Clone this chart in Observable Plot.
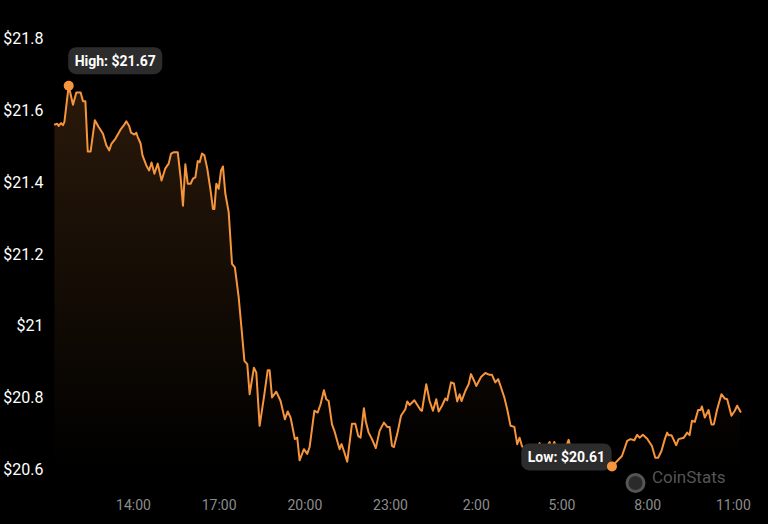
<!DOCTYPE html>
<html><head><meta charset="utf-8">
<script src="https://cdn.jsdelivr.net/npm/d3@7"></script>
<script src="https://cdn.jsdelivr.net/npm/@observablehq/plot@0.6"></script>
<style>
html,body{margin:0;padding:0;background:#000;}
#chart svg{display:block;}
</style></head><body><div id="chart"></div>
<script>
// ---- data ----
const startTime = new Date(2024, 4, 14, 11, 15);
const minutes = [
  0,5,8,13,17,20,29,38,45,54,
  59,64,69,75,84,92,101,108,114,119,
  127,139,145,150,156,160,167,171,174,180,
  184,192,198,203,209,216,224,232,239,244,
  250,258,264,269,274,279,285,290,295,300,
  304,309,314,320,327,332,335,339,344,349,
  353,358,365,372,378,386,393,398,404,409,
  418,423,430,439,447,451,456,465,474,483,
  489,495,504,509,514,523,530,535,545,552,
  558,565,570,575,582,587,594,598,602,607,
  614,624,631,637,642,649,653,659,666,674,
  682,691,698,703,708,712,719,727,736,740,
  745,755,768,771,780,787,794,801,806,813,
  820,824,832,838,845,850,854,862,869,874,
  880,885,895,904,913,918,925,931,936,944,
  950,957,965,971,976,981,988,999,1009,1018,
  1024,1032,1039,1043,1049,1055,1064,1072,1079,1085,
  1095,1106,1116,1127,1137,1148,1158,1170,1181,1191,
  1202,1209,1217,1223,1228,1235,1244,1254,1261,1267,
  1274,1281,1286,1289,1295,1305,1310,1321,1328,1333,
  1338,1344,1351,1356,1359,1365,1373,1379,1384,1391,
  1400,1407,1412,1421,1428,1433,1440
];
const prices = [
  21.562,21.564,21.558,21.566,21.560,21.569,21.670,21.617,21.651,21.651,
  21.627,21.627,21.487,21.487,21.574,21.555,21.536,21.504,21.490,21.509,
  21.522,21.550,21.560,21.571,21.558,21.539,21.534,21.539,21.527,21.509,
  21.476,21.448,21.434,21.456,21.425,21.453,21.406,21.440,21.453,21.481,
  21.485,21.485,21.415,21.336,21.451,21.397,21.397,21.411,21.415,21.460,
  21.457,21.481,21.476,21.439,21.378,21.327,21.327,21.397,21.383,21.434,
  21.445,21.369,21.318,21.174,21.164,21.081,20.979,20.904,20.895,20.811,
  20.885,20.871,20.723,20.802,20.878,20.878,20.802,20.818,20.792,20.741,
  20.763,20.746,20.686,20.690,20.627,20.658,20.645,20.664,20.765,20.760,
  20.783,20.822,20.797,20.792,20.727,20.709,20.676,20.658,20.672,20.653,
  20.623,20.729,20.729,20.695,20.690,20.772,20.735,20.704,20.686,20.661,
  20.709,20.732,20.720,20.720,20.667,20.664,20.700,20.751,20.769,20.791,
  20.781,20.794,20.767,20.765,20.839,20.792,20.765,20.797,20.763,20.779,
  20.799,20.794,20.844,20.841,20.791,20.811,20.792,20.820,20.839,20.867,
  20.850,20.834,20.859,20.870,20.865,20.865,20.844,20.853,20.834,20.802,
  20.769,20.723,20.720,20.672,20.690,20.667,20.653,20.664,20.647,20.675,
  20.656,20.661,20.678,20.659,20.678,20.653,20.645,20.659,20.684,20.650,
  20.639,20.653,20.636,20.647,20.631,20.639,20.620,20.610,20.625,20.639,
  20.681,20.686,20.683,20.698,20.690,20.698,20.687,20.667,20.634,20.634,
  20.653,20.686,20.704,20.697,20.697,20.669,20.686,20.690,20.704,20.697,
  20.737,20.734,20.767,20.767,20.777,20.746,20.767,20.727,20.727,20.769,
  20.811,20.799,20.797,20.751,20.765,20.779,20.762
];
const yTicks = [20.6, 20.8, 21, 21.2, 21.4, 21.6, 21.8];
const xTickLabels = ["14:00","17:00","20:00","23:00","2:00","5:00","8:00","11:00"];
const watermark = "CoinStats";

// ---- build ----
const data = minutes.map((m, i) => ({date: new Date(startTime.getTime() + m * 60000), price: prices[i]}));
const xTicks = xTickLabels.map(s => {
  const [h, mm] = s.split(":").map(Number);
  const d = new Date(startTime);
  if (h < 12) d.setDate(d.getDate() + 1);
  d.setHours(h, mm, 0, 0);
  return d;
});
const hi = d3.greatest(data, d => d.price);
const lo = d3.least(data, d => d.price);
const highLabel = "High: $" + hi.price.toFixed(2);
const lowLabel = "Low: $" + lo.price.toFixed(2);
const endTime = new Date(startTime.getTime() + 1440 * 60000);
const orange = "#f7953c";

const defs = () => {
  const ns = "http://www.w3.org/2000/svg";
  const d = document.createElementNS(ns, "defs");
  d.innerHTML = `<linearGradient id="areaGrad" x1="0" y1="0" x2="0" y2="1">
    <stop offset="0%" stop-color="${orange}" stop-opacity="0.17"/>
    <stop offset="100%" stop-color="${orange}" stop-opacity="0"/>
  </linearGradient>`;
  return d;
};

const chart = Plot.plot({
  width: 768,
  height: 524,
  marginLeft: 54.4,
  marginRight: 28,
  marginTop: 38.5,
  marginBottom: 54.5,
  style: {fontFamily: "Roboto, sans-serif", background: "#000", color: "#fff", overflow: "visible"},
  x: {type: "time", domain: [startTime, endTime], axis: null},
  y: {domain: [20.6, 21.8], axis: null},
  marks: [
    defs,
    Plot.areaY(data, {x: "date", y1: 20.6, y2: "price", fill: "url(#areaGrad)"}),
    Plot.lineY(data, {x: "date", y: "price", stroke: orange, strokeWidth: 2, strokeLinejoin: "round"}),
    Plot.axisY(yTicks, {tickSize: 0, tickPadding: 11.5, tickFormat: d => "$" + d, color: "#ffffff", fontSize: 16, label: null}),
    Plot.axisX(xTicks, {tickSize: 0, tickPadding: 30, tickFormat: d3.timeFormat("%-H:%M"), color: "#8c8c8c", fontSize: 14, label: null}),
    Plot.text([watermark], {frameAnchor: "bottom-right", text: d => d, dx: -15, dy: 13, textAnchor: "end", fill: "#555555", fontSize: 17}),
    Plot.dot([watermark], {frameAnchor: "bottom-right", dx: -105, dy: 13, r: 8.5, stroke: "#555555", strokeWidth: 3, fill: "#2a2a2a"}),
    Plot.text([hi], {x: "date", y: "price", text: () => highLabel, dx: 46.5, dy: -24.5, fill: "#fff", fontWeight: "bold", fontSize: 14}),
    Plot.text([lo], {x: "date", y: "price", text: () => lowLabel, dx: -45.5, dy: -9, fill: "#fff", fontWeight: "bold", fontSize: 14}),
    Plot.dot([hi, lo], {x: "date", y: "price", r: 5, fill: orange})
  ]
});
document.getElementById("chart").append(chart);

// rounded label boxes behind the High / Low texts
const ns = "http://www.w3.org/2000/svg";
const svg = chart.tagName.toLowerCase() === "svg" ? chart : chart.querySelector("svg");
svg.querySelectorAll("text").forEach(t => {
  if (t.textContent === highLabel || t.textContent === lowLabel) {
    const b = t.getBBox();
    const r = document.createElementNS(ns, "rect");
    r.setAttribute("x", b.x - 6.5);
    r.setAttribute("y", b.y - 5.5);
    r.setAttribute("width", b.width + 13);
    r.setAttribute("height", b.height + 11);
    r.setAttribute("rx", 8);
    r.setAttribute("fill", "#2c2c2c");
    const tr = t.getAttribute("transform");
    if (tr) r.setAttribute("transform", tr);
    t.parentNode.insertBefore(r, t);
  }
});
</script>
</body></html>
